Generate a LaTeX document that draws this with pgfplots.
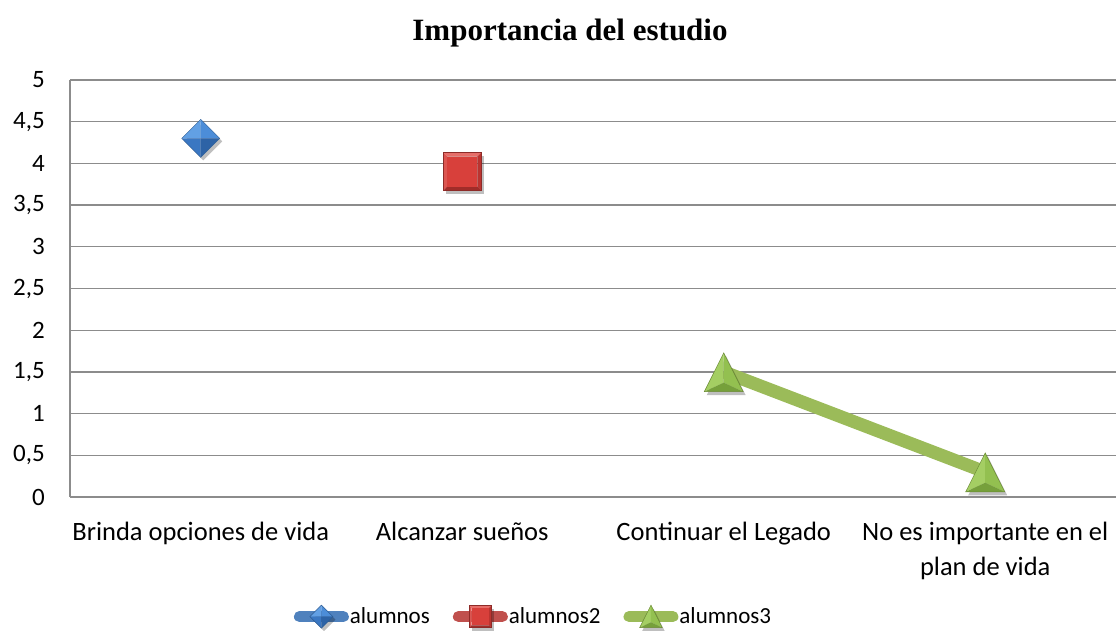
\documentclass[border=0pt]{standalone}
\usepackage{pgfplots}
\pgfplotsset{compat=1.18}
\usepackage{fontspec}
\setmainfont{Carlito}
\newfontfamily\titlefont{Liberation Serif}
\definecolor{gridgray}{HTML}{8C8C8C}
\definecolor{lblue}{HTML}{4F81BD}
\definecolor{dblue}{HTML}{2C5C94}
\definecolor{bd1}{HTML}{62A0E4}
\definecolor{bd2}{HTML}{4C8DD8}
\definecolor{bd3}{HTML}{3A77C2}
\definecolor{bd4}{HTML}{2D63A6}
\definecolor{lred}{HTML}{C0504D}
\definecolor{dred}{HTML}{8E2B28}
\definecolor{rs1}{HTML}{E66E69}
\definecolor{rs2}{HTML}{DC5651}
\definecolor{rs3}{HTML}{BB3430}
\definecolor{rs4}{HTML}{A12C29}
\definecolor{rs5}{HTML}{D8403B}
\definecolor{lgreen}{HTML}{9BBB59}
\definecolor{dgreen}{HTML}{6A8A34}
\definecolor{gt1}{HTML}{A4CE63}
\definecolor{gt2}{HTML}{93C050}
\definecolor{gt3}{HTML}{76A03B}
\newcommand\pp[2]{\pgfpoint{#1\pgfplotmarksize}{#2\pgfplotmarksize}}
\newcommand\facet[2]{\begin{pgfscope}#2\pgfsetfillcolor{#1}\pgfusepath{fill}\end{pgfscope}}
\pgfdeclareplotmark{bdiamond}{%
  \begin{pgfscope}\pgftransformshift{\pgfpoint{2.5pt}{-3pt}}\pgfsetfillopacity{0.25}\pgfsetfillcolor{black}%
    \pgfpathmoveto{\pp{0}{1}}\pgfpathlineto{\pp{1}{0}}\pgfpathlineto{\pp{0}{-1}}\pgfpathlineto{\pp{-1}{0}}\pgfpathclose\pgfusepath{fill}\end{pgfscope}%
  \facet{bd1}{\pgfpathmoveto{\pp{0}{0}}\pgfpathlineto{\pp{0}{1}}\pgfpathlineto{\pp{-1}{0}}\pgfpathclose}%
  \facet{bd2}{\pgfpathmoveto{\pp{0}{0}}\pgfpathlineto{\pp{0}{1}}\pgfpathlineto{\pp{1}{0}}\pgfpathclose}%
  \facet{bd3}{\pgfpathmoveto{\pp{0}{0}}\pgfpathlineto{\pp{0}{-1}}\pgfpathlineto{\pp{-1}{0}}\pgfpathclose}%
  \facet{bd4}{\pgfpathmoveto{\pp{0}{0}}\pgfpathlineto{\pp{0}{-1}}\pgfpathlineto{\pp{1}{0}}\pgfpathclose}%
  \begin{pgfscope}\pgfsetstrokecolor{dblue}\pgfsetlinewidth{0.5pt}%
    \pgfpathmoveto{\pp{0}{1}}\pgfpathlineto{\pp{1}{0}}\pgfpathlineto{\pp{0}{-1}}\pgfpathlineto{\pp{-1}{0}}\pgfpathclose\pgfusepath{stroke}\end{pgfscope}%
}
\pgfdeclareplotmark{bsquare}{%
  \begin{pgfscope}\pgftransformshift{\pgfpoint{2.5pt}{-3pt}}\pgfsetfillopacity{0.25}\pgfsetfillcolor{black}%
    \pgfpathrectanglecorners{\pp{-1}{-1}}{\pp{1}{1}}\pgfusepath{fill}\end{pgfscope}%
  \facet{rs1}{\pgfpathmoveto{\pp{-1}{1}}\pgfpathlineto{\pp{1}{1}}\pgfpathlineto{\pp{0.8}{0.8}}\pgfpathlineto{\pp{-0.8}{0.8}}\pgfpathclose}%
  \facet{rs2}{\pgfpathmoveto{\pp{-1}{1}}\pgfpathlineto{\pp{-0.8}{0.8}}\pgfpathlineto{\pp{-0.8}{-0.8}}\pgfpathlineto{\pp{-1}{-1}}\pgfpathclose}%
  \facet{rs3}{\pgfpathmoveto{\pp{1}{1}}\pgfpathlineto{\pp{1}{-1}}\pgfpathlineto{\pp{0.8}{-0.8}}\pgfpathlineto{\pp{0.8}{0.8}}\pgfpathclose}%
  \facet{rs4}{\pgfpathmoveto{\pp{-1}{-1}}\pgfpathlineto{\pp{-0.8}{-0.8}}\pgfpathlineto{\pp{0.8}{-0.8}}\pgfpathlineto{\pp{1}{-1}}\pgfpathclose}%
  \facet{rs5}{\pgfpathrectanglecorners{\pp{-0.8}{-0.8}}{\pp{0.8}{0.8}}}%
  \begin{pgfscope}\pgfsetstrokecolor{dred}\pgfsetlinewidth{0.5pt}%
    \pgfpathrectanglecorners{\pp{-1}{-1}}{\pp{1}{1}}\pgfusepath{stroke}\end{pgfscope}%
}
\pgfdeclareplotmark{btriangle}{%
  \begin{pgfscope}\pgftransformshift{\pgfpoint{2.5pt}{-3pt}}\pgfsetfillopacity{0.25}\pgfsetfillcolor{black}%
    \pgfpathmoveto{\pp{0}{1}}\pgfpathlineto{\pp{0.866}{-0.5}}\pgfpathlineto{\pp{-0.866}{-0.5}}\pgfpathclose\pgfusepath{fill}\end{pgfscope}%
  \facet{gt1}{\pgfpathmoveto{\pp{0}{1}}\pgfpathlineto{\pp{-0.866}{-0.5}}\pgfpathlineto{\pp{0}{-0.15}}\pgfpathclose}%
  \facet{gt2}{\pgfpathmoveto{\pp{0}{1}}\pgfpathlineto{\pp{0.866}{-0.5}}\pgfpathlineto{\pp{0}{-0.15}}\pgfpathclose}%
  \facet{gt3}{\pgfpathmoveto{\pp{-0.866}{-0.5}}\pgfpathlineto{\pp{0.866}{-0.5}}\pgfpathlineto{\pp{0}{-0.15}}\pgfpathclose}%
  \begin{pgfscope}\pgfsetstrokecolor{dgreen}\pgfsetlinewidth{0.5pt}%
    \pgfpathmoveto{\pp{0}{1}}\pgfpathlineto{\pp{0.866}{-0.5}}\pgfpathlineto{\pp{-0.866}{-0.5}}\pgfpathclose\pgfusepath{stroke}\end{pgfscope}%
}
\begin{document}
\begin{tikzpicture}
\useasboundingbox (0pt,0pt) rectangle (1116pt,631pt);
\node[anchor=base, font=\titlefont\bfseries\fontsize{31}{36}\selectfont] at (570pt,590pt) {Importancia del estudio};
\begin{axis}[
  at={(70pt,134pt)}, anchor=south west,
  scale only axis, width=1046pt, height=417pt,
  xmin=0, xmax=4, ymin=0, ymax=5,
  axis lines*=left,
  axis line style={draw=gridgray, line width=1.3pt},
  xtick={0.5,1.5,2.5,3.5},
  xticklabels={Brinda opciones de vida, Alcanzar sueños, Continuar el Legado, {No es importante en el\\plan de vida}},
  ytick={0,0.5,...,5},
  yticklabels={0,{0,5},1,{1,5},2,{2,5},3,{3,5},4,{4,5},5},
  major tick length=0pt,
  ymajorgrids,
  grid style={draw=gridgray, line width=1.3pt},
  yticklabel style={font=\fontsize{25}{30}\selectfont, inner sep=0pt, anchor=east, xshift=-25pt},
  xticklabel style={font=\fontsize{26.5}{35}\selectfont, inner sep=0pt, anchor=north, align=center, yshift=-25pt},
  clip=false,
  legend style={at={(463pt,-121pt)}, anchor=center, draw=none, fill=none, inner sep=0pt,
    legend columns=3, font=\fontsize{23}{28}\selectfont,
    nodes={inner sep=1pt},
    /tikz/every even column/.append style={column sep=22pt}},
]
\addplot[only marks, mark=bdiamond, mark size=19pt,
  legend image code/.code={
    \draw[lblue, line width=11pt, line cap=round] (5.5pt,0pt) -- (49.5pt,0pt);
    \draw[mark=bdiamond, mark size=11.5pt] plot coordinates {(27.5pt,0pt)};
  }] coordinates {(0.5,4.3)};
\addlegendentry{alumnos}
\addplot[only marks, mark=bsquare, mark size=19pt,
  legend image code/.code={
    \draw[lred, line width=11pt, line cap=round] (5.5pt,0pt) -- (49.5pt,0pt);
    \draw[mark=bsquare, mark size=11pt] plot coordinates {(27.5pt,0pt)};
  }] coordinates {(1.5,3.9)};
\addlegendentry{alumnos2}
\addplot[lgreen, line width=13pt, mark=btriangle, mark size=22.5pt, mark options={yscale=1.15, yshift=-6pt},
  legend image code/.code={
    \draw[lgreen, line width=11pt, line cap=round] (5.5pt,0pt) -- (49.5pt,0pt);
    \draw[mark=btriangle, mark size=13pt, mark options={yscale=1.15, yshift=-3pt}] plot coordinates {(27.5pt,0pt)};
  }] coordinates {(2.5,1.5) (3.5,0.3)};
\addlegendentry{alumnos3}
\end{axis}
\end{tikzpicture}
\end{document}
